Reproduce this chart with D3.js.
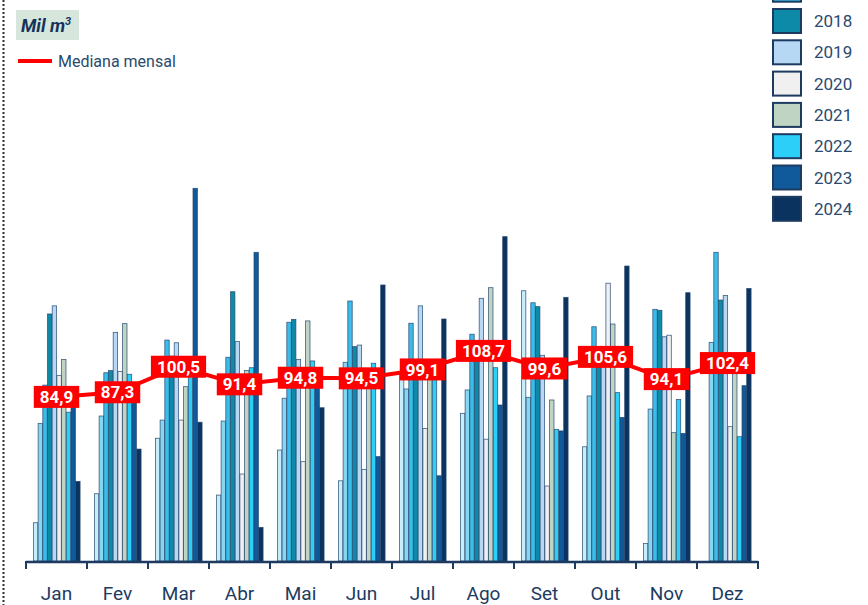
<!DOCTYPE html>
<html>
<head>
<meta charset="utf-8">
<script src="https://cdn.jsdelivr.net/npm/d3@7"></script>
<style>
  body { margin: 0; background: #fff; }
  svg { display: block; font-family: Roboto, "Noto Sans", sans-serif; }
</style>
</head>
<body>
<svg id="chart"></svg>
<script>
// Data
const months = ["Jan", "Fev", "Mar", "Abr", "Mai", "Jun", "Jul", "Ago", "Set", "Out", "Nov", "Dez"];
const years = ["2015", "2016", "2017", "2018", "2019", "2020", "2021", "2022", "2023", "2024"];
const v2015 = [19.8, 34.8, 63.5, 34.1, 57.4, 41.5, 97.0, 76.4, 139.8, 59.1, 9.1, null];
const v2016 = [71.2, 75.0, 72.9, 72.4, 84.2, 102.8, 89.0, 88.5, 84.7, 85.4, 78.6, 113.1];
const v2017 = [91.0, 97.4, 114.3, 105.4, 123.5, 134.5, 123.0, 117.3, 133.6, 121.2, 130.2, 159.7];
const v2018 = [127.8, 98.5, 106.0, 139.3, 125.0, 110.9, 100.0, 108.0, 131.6, 104.0, 129.7, 135.0];
const v2019 = [132.0, 118.3, 112.9, 113.5, 104.3, 111.7, 132.0, 135.9, 106.4, 106.0, 116.0, 137.3];
const v2020 = [95.9, 98.0, 72.9, 45.0, 51.4, 47.4, 68.6, 63.0, 38.8, 143.7, 116.8, 69.5];
const v2021 = [104.3, 122.8, 90.2, 98.6, 124.2, 92.0, 98.0, 141.4, 83.3, 122.6, 66.4, 97.0];
const v2022 = [77.0, 96.6, 97.0, 100.0, 103.5, 102.3, 96.0, 100.0, 68.1, 87.1, 83.6, 64.3];
const v2023 = [84.0, 92.0, 192.8, 159.7, 95.0, 54.0, 44.1, 80.7, 67.3, 74.3, 66.0, 90.7];
const v2024 = [41.2, 57.9, 71.8, 17.4, 79.3, 142.8, 125.2, 167.8, 136.4, 152.6, 138.8, 141.0];
const medians = [84.9, 87.3, 100.5, 91.4, 94.8, 94.5, 99.1, 108.7, 99.6, 105.6, 94.1, 102.4];

const series = [v2015, v2016, v2017, v2018, v2019, v2020, v2021, v2022, v2023, v2024];
const colors = ["#c6eefa", "#86d6f2", "#3bbde9", "#0c8aa8", "#b7d8f5", "#f0f0f0",
                "#bfd4c3", "#2ccff8", "#10599a", "#0b335f"];

const width = 868;
const height = 605;
const navy = "#1d3b61";

const svg = d3.select("#chart")
    .attr("width", width)
    .attr("height", height);

// Scales
const x0 = d3.scaleBand()
    .domain(months)
    .range([26, 758])
    .paddingInner(0.23)
    .paddingOuter(0.115);

const x1 = d3.scaleBand()
    .domain(years)
    .range([0, x0.bandwidth()]);

const y = d3.scaleLinear()
    .domain([0, 200])
    .range([561, 174.4]);

const color = d3.scaleOrdinal().domain(years).range(colors);

// Left dotted border
svg.append("line")
    .attr("x1", 3.5).attr("x2", 3.5)
    .attr("y1", 0).attr("y2", height)
    .attr("stroke", "#333")
    .attr("stroke-width", 2)
    .attr("stroke-dasharray", "2,2");

// Bars
const rows = months.map((m, i) => ({
    month: m,
    values: years.map((yr, j) => ({ year: yr, value: series[j][i] }))
}));

const groups = svg.append("g")
    .selectAll("g")
    .data(rows)
    .join("g")
    .attr("transform", d => `translate(${x0(d.month)},0)`);

groups.selectAll("rect")
    .data(d => d.values.filter(v => v.value != null))
    .join("rect")
    .attr("x", d => x1(d.year) + 0.4)
    .attr("y", d => y(d.value))
    .attr("width", x1.bandwidth() - 0.3)
    .attr("height", d => y(0) - y(d.value))
    .attr("fill", d => color(d.year))
    .attr("stroke", "#24476e")
    .attr("stroke-opacity", 0.85)
    .attr("stroke-width", 0.8);

// Axis line and ticks at band boundaries
const step = x0.step();
const half = step * x0.paddingInner() / 2;
const bounds = months.map(m => x0(m) - half).concat([x0(months[11]) + x0.bandwidth() + half]);

svg.append("line")
    .attr("x1", bounds[0]).attr("x2", bounds[12])
    .attr("y1", y(0) + 1).attr("y2", y(0) + 1)
    .attr("stroke", navy)
    .attr("stroke-width", 2.5);

svg.append("g")
    .selectAll("line")
    .data(bounds)
    .join("line")
    .attr("x1", d => d).attr("x2", d => d)
    .attr("y1", y(0)).attr("y2", y(0) + 8)
    .attr("stroke", navy)
    .attr("stroke-width", 2);

svg.append("g")
    .selectAll("text")
    .data(months)
    .join("text")
    .attr("x", d => x0(d) + x0.bandwidth() / 2)
    .attr("y", 600)
    .attr("text-anchor", "middle")
    .attr("fill", navy)
    .style("font-size", "19px")
    .text(d => d);

// Median line
const medPts = months.map((m, i) => [x0(m) + x0.bandwidth() / 2, y(medians[i])]);

svg.append("path")
    .attr("d", d3.line()(medPts))
    .attr("fill", "none")
    .attr("stroke", "#ff0000")
    .attr("stroke-width", 4);

const labels = svg.append("g")
    .selectAll("g")
    .data(medPts)
    .join("g")
    .attr("transform", d => `translate(${d[0]},${d[1]})`);

labels.append("rect").attr("fill", "#ff0000");
labels.append("text")
    .attr("text-anchor", "middle")
    .attr("dy", "0.36em")
    .attr("fill", "#fff")
    .style("font-size", "17px")
    .style("font-weight", "700")
    .text((d, i) => d3.format(".1f")(medians[i]).replace(".", ","));

labels.each(function () {
    const g = d3.select(this);
    const w = g.select("text").node().getComputedTextLength();
    g.select("rect")
        .attr("x", -w / 2 - 6)
        .attr("y", -11)
        .attr("width", w + 12)
        .attr("height", 22);
});

// Legend (years); the first items run off the top, as in the original
const legendY = i => 21 + (i - 3) * 31.3;

const legend = svg.append("g")
    .selectAll("g")
    .data(years)
    .join("g")
    .attr("transform", (d, i) => `translate(773,${legendY(i)})`);

legend.append("rect")
    .attr("x", 0).attr("y", -12)
    .attr("width", 28).attr("height", 24)
    .attr("fill", d => color(d))
    .attr("stroke", navy)
    .attr("stroke-width", 2);

// only label the entries whose text is inside the frame
legend.filter((d, i) => legendY(i) > 10)
    .append("text")
    .attr("x", 41).attr("y", 0)
    .attr("dy", "0.36em")
    .attr("fill", "#2a4a6e")
    .style("font-size", "17px")
    .text(d => d);

// Unit label
svg.append("rect")
    .attr("x", 16).attr("y", 10)
    .attr("width", 63).attr("height", 30)
    .attr("fill", "#d6e6dc");

const unit = svg.append("text")
    .attr("x", 21).attr("y", 32)
    .attr("fill", "#14325a")
    .style("font-size", "18px")
    .style("font-weight", "700")
    .style("font-style", "italic");
unit.append("tspan").text("Mil m");
unit.append("tspan").attr("dy", -7).style("font-size", "11px").text("3");

// Median legend
svg.append("line")
    .attr("x1", 18).attr("x2", 52)
    .attr("y1", 61).attr("y2", 61)
    .attr("stroke", "#ff0000")
    .attr("stroke-width", 4);

svg.append("text")
    .attr("x", 58).attr("y", 61)
    .attr("dy", "0.36em")
    .attr("fill", "#2a4a6e")
    .style("font-size", "16px")
    .text("Mediana mensal");
</script>
</body>
</html>
